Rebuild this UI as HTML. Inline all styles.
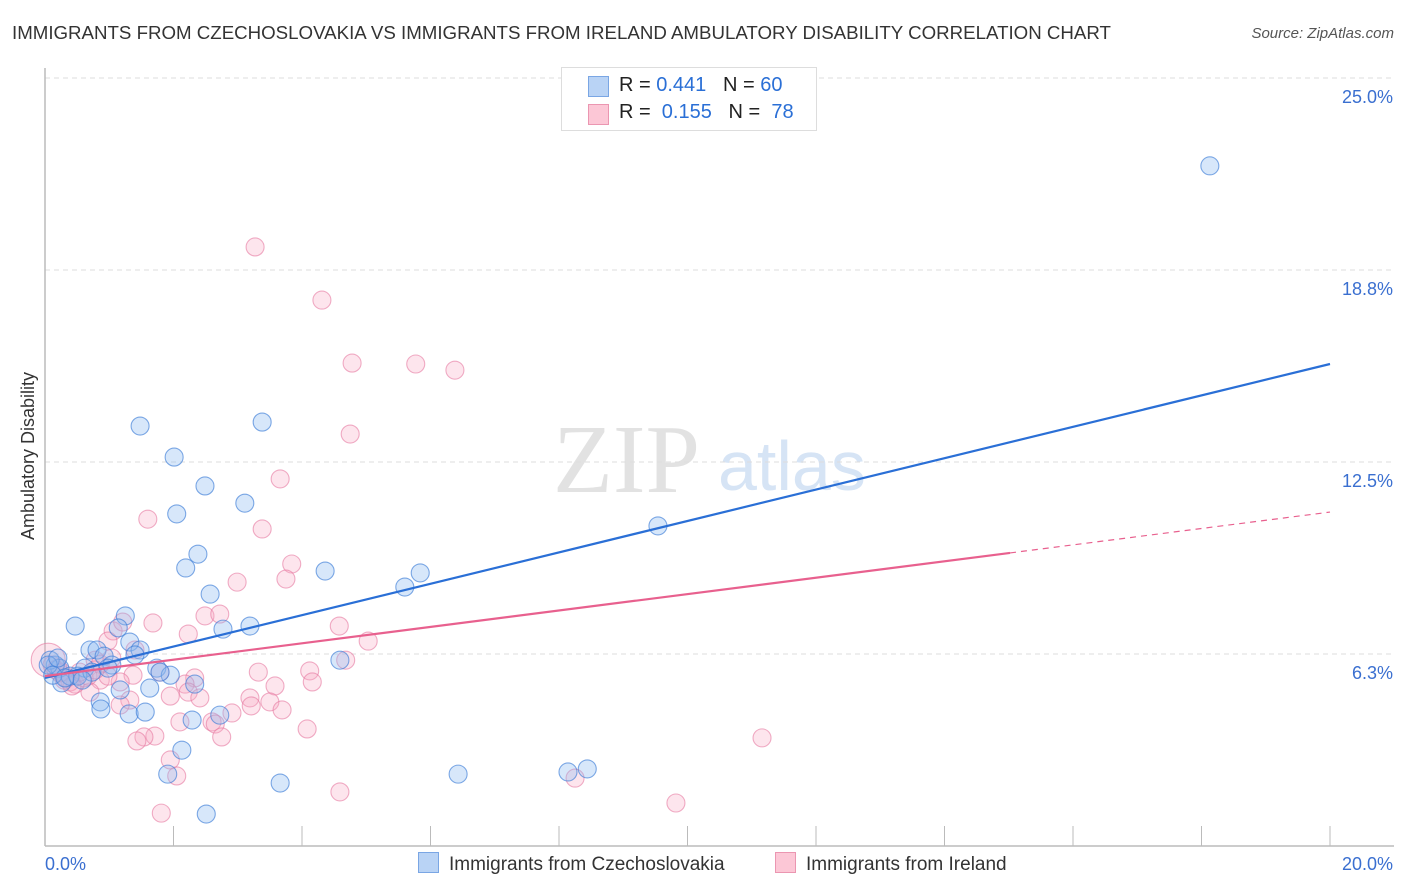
<!DOCTYPE html>
<html><head><meta charset="utf-8">
<style>
body{margin:0;background:#fff;font-family:"Liberation Sans",sans-serif;}
#wrap{position:relative;width:1406px;height:892px;overflow:hidden;}
.t{position:absolute;white-space:nowrap;}
</style></head><body>
<div id="wrap">
<div class="t" style="left:12px;top:22px;font-size:18.7px;color:#333;">IMMIGRANTS FROM CZECHOSLOVAKIA VS IMMIGRANTS FROM IRELAND AMBULATORY DISABILITY CORRELATION CHART</div>
<div class="t" style="right:12px;top:25px;font-size:15px;color:#555;font-style:italic;">Source: ZipAtlas.com</div>
<svg id="svg" width="1406" height="892" style="position:absolute;left:0;top:0"></svg>
</div>
<script>
const xTicks=[0,2,4,6,8,10,12,14,16,18,20];
const yTicks=[6.25,12.5,18.75,25];
const yTickLabels=["6.3%","12.5%","18.8%","25.0%"];
const blueX=[18.13,9.54,1.48,3.38,2.01,2.49,2.05,3.11,2.38,2.19,4.36,5.84,5.60,2.57,1.25,0.47,2.77,3.19,1.14,1.32,0.70,0.81,1.48,0.92,1.74,1.95,4.59,0.16,0.23,0.62,1.04,1.63,2.33,1.17,0.26,0.39,0.86,0.87,1.31,1.56,2.72,2.29,2.13,1.91,3.66,6.43,8.14,8.44,2.51,0.08,0.05,0.12,0.51,0.73,0.31,0.58,0.98,0.20,1.40,1.79];
const blueY=[22.14,10.42,13.67,13.80,12.66,11.72,10.81,11.16,9.50,9.05,8.95,8.89,8.43,8.20,7.49,7.16,7.06,7.16,7.10,6.64,6.38,6.38,6.38,6.18,5.79,5.56,6.05,5.89,5.79,5.79,5.89,5.14,5.27,5.08,5.31,5.53,4.69,4.46,4.30,4.36,4.26,4.10,3.12,2.34,2.05,2.34,2.41,2.51,1.04,6.05,5.89,5.56,5.53,5.66,5.47,5.40,5.79,6.12,6.22,5.66];
const pinkX=[3.27,4.31,4.78,5.77,6.38,4.75,3.66,1.60,3.38,3.84,2.99,3.75,2.49,2.72,1.68,2.23,1.06,1.21,4.58,5.03,4.68,0.98,1.40,0.78,3.32,4.12,4.16,3.58,2.33,2.18,1.79,1.37,0.86,1.17,0.70,3.19,2.23,2.41,3.50,3.21,3.69,1.95,1.32,1.17,2.91,2.60,2.10,2.65,4.08,2.75,1.71,1.54,1.43,11.16,1.95,2.05,8.25,4.59,9.82,1.81,0.05,0.11,0.17,0.23,0.33,0.39,0.47,0.61,0.67,0.54,0.26,0.98,0.86,0.20,0.42,0.78,1.04,0.30];
const pinkY=[19.50,17.77,15.72,15.69,15.49,13.41,11.95,10.64,10.32,9.18,8.59,8.69,7.49,7.55,7.26,6.90,7.00,7.29,7.16,6.67,6.05,6.67,6.38,6.05,5.66,5.70,5.34,5.21,5.47,5.27,5.66,5.56,5.40,5.34,5.01,4.82,5.01,4.82,4.69,4.56,4.43,4.88,4.75,4.59,4.33,4.04,4.04,3.97,3.81,3.55,3.58,3.55,3.42,3.52,2.80,2.28,2.21,1.76,1.40,1.07,6.05,5.89,5.73,5.63,5.47,5.34,5.27,5.47,5.53,5.66,5.66,5.53,5.92,5.79,5.21,5.73,6.12,5.40];
const blueTrend=[5.47,15.69];
const pinkTrend=[5.53,10.87];
const pinkSolidEnd=15.02;

const X=v=>45+v/20*1285;
const Y=v=>846-v/25*768;
const svg=document.getElementById('svg');
const NS='http://www.w3.org/2000/svg';
function mk(tag,attrs,parent){const e=document.createElementNS(NS,tag);for(const k in attrs)e.setAttribute(k,attrs[k]);(parent||svg).appendChild(e);return e;}

const wm=mk('text',{x:553,y:492,'font-size':98,'font-family':'Liberation Serif,serif',fill:'#e2e2e2'});
wm.textContent='ZIP';


const wm2=mk('text',{x:718,y:490,'font-size':70,'font-family':'Liberation Sans,sans-serif',fill:'#d6e4f5'});
wm2.textContent='atlas';



yTicks.forEach((v,i)=>{
 const g=mk('line',{x1:45,x2:1394,y1:Y(v),y2:Y(v),stroke:'#ddd','stroke-dasharray':'5,4'});
 
 
 const t=mk('text',{x:1393,y:Y(v)+25,'text-anchor':'end','font-size':18,fill:'#3a6fd0','font-family':'Liberation Sans,sans-serif'});
 t.textContent=yTickLabels[i];
 
 
});
const ax=mk('line',{x1:45,x2:1394,y1:846,y2:846,stroke:'#bbb','stroke-width':1.5});


const ay=mk('line',{x1:45,x2:45,y1:68,y2:846,stroke:'#bbb','stroke-width':1.5});


xTicks.forEach(v=>{
 const t=mk('line',{x1:X(v),x2:X(v),y1:826,y2:846,stroke:'#bbb'});
 
 
});
const xl0=mk('text',{x:45,y:870,'font-size':18,fill:'#3a6fd0','font-family':'Liberation Sans,sans-serif'});
xl0.textContent=xTicks[0].toFixed(1)+'%';


const xl1=mk('text',{x:1393,y:870,'text-anchor':'end','font-size':18,fill:'#3a6fd0','font-family':'Liberation Sans,sans-serif'});
xl1.textContent=xTicks[xTicks.length-1].toFixed(1)+'%';


const yt=mk('text',{x:34,y:456,'text-anchor':'middle','font-size':18,fill:'#333',transform:'rotate(-90 34 456)','font-family':'Liberation Sans,sans-serif'});
yt.textContent='Ambulatory Disability';



function pts(xs,ys,fill,stroke,name){
 xs.forEach((x,i)=>{
  const big=(name==='pink-point'&&i===pinkX.length-18);
  const c=mk('circle',{cx:X(x),cy:Y(ys[i]),r:big?17:9,fill:fill,stroke:stroke,'stroke-width':1.1});
  
  
 });
}
pts(pinkX,pinkY,'rgba(248,170,195,0.3)','rgba(230,120,160,0.6)','pink-point');
pts(blueX,blueY,'rgba(140,185,240,0.35)','rgba(60,125,215,0.65)','blue-point');

const bl=mk('line',{x1:X(0),y1:Y(blueTrend[0]),x2:X(20),y2:Y(blueTrend[1]),stroke:'#2a6fd6','stroke-width':2.2});


const pyAt=x=>pinkTrend[0]+(pinkTrend[1]-pinkTrend[0])*x/20;
const pl=mk('line',{x1:X(0),y1:Y(pyAt(0)),x2:X(pinkSolidEnd),y2:Y(pyAt(pinkSolidEnd)),stroke:'#e8608e','stroke-width':2.2});


const pd=mk('line',{x1:X(pinkSolidEnd),y1:Y(pyAt(pinkSolidEnd)),x2:X(20),y2:Y(pyAt(20)),stroke:'#e8608e','stroke-width':1.2,'stroke-dasharray':'6,5'});


</script>
<div class="t" style="left:561px;top:67px;width:254px;height:62px;border:1px solid #ddd;background:#fff;font-size:20px;color:#222;">
 <div style="position:absolute;left:26px;top:8px;width:19px;height:19px;background:#b9d3f5;border:1px solid #7aa6e4;"></div>
 <div style="position:absolute;left:57px;top:6px;">R = <span style="color:#2a6fd6">0.441</span>&nbsp;&nbsp;&nbsp;N = <span style="color:#2a6fd6">60</span></div>
 <div style="position:absolute;left:26px;top:36px;width:19px;height:19px;background:#fcc7d6;border:1px solid #eb96b1;"></div>
 <div style="position:absolute;left:57px;top:33px;">R = &nbsp;<span style="color:#2a6fd6">0.155</span>&nbsp;&nbsp;&nbsp;N = &nbsp;<span style="color:#2a6fd6">78</span></div>
</div>
<div class="t" style="left:418px;top:852px;font-size:19px;color:#333;">
 <span style="display:inline-block;width:19px;height:19px;background:#b9d3f5;border:1px solid #7aa6e4;vertical-align:-3px;margin-right:10px;"></span>Immigrants from Czechoslovakia</div>
<div class="t" style="left:775px;top:852px;font-size:19px;color:#333;">
 <span style="display:inline-block;width:19px;height:19px;background:#fcc7d6;border:1px solid #eb96b1;vertical-align:-3px;margin-right:10px;"></span>Immigrants from Ireland</div>
</body></html>
